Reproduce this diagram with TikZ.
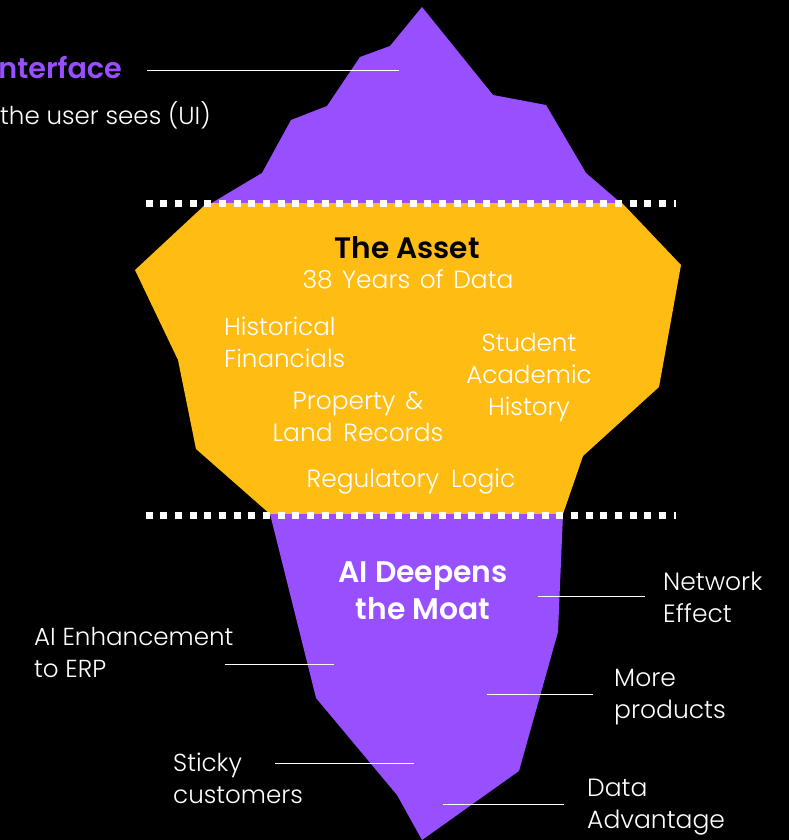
\documentclass[tikz,border=0pt]{standalone}
\usepackage{fontspec}
\setmainfont{Poppins}
\newfontfamily\lightfont{Poppins Light}
\newfontfamily\boldfont{Poppins SemiBold}
\definecolor{bergpurple}{HTML}{9850FF}
\definecolor{assetgold}{HTML}{FFBC13}
\newcommand\widegap[1]{\ \hspace{#1pt}}
\tikzset{
  x=1pt,y=-1pt,
  berg/.style={fill=bergpurple,draw=none},
  asset/.style={fill=assetgold,draw=none},
  waterline/.style={draw=white,line width=7pt,dash pattern=on 7.2pt off 7.47pt},
  leader/.style={draw=white,line width=0.9pt},
  label/.style={font=\lightfont\fontsize{24.6}{32}\selectfont,text=white,align=left,anchor=west,inner sep=0pt},
  labelb/.style={label,font=\lightfont\fontsize{25}{32}\selectfont},
  labelc/.style={label,align=center,anchor=center},
  labelw/.style={labelc,font=\lightfont\fontsize{24.9}{32}\selectfont},
  headdark/.style={font=\boldfont\fontsize{29.6}{32}\selectfont,text=black,anchor=center,inner sep=0pt},
  headwhite/.style={font=\boldfont\fontsize{29.8}{37}\selectfont,text=white,align=center,anchor=center,inner sep=0pt},
  headpurple/.style={font=\boldfont\fontsize{28.6}{32}\selectfont,text=bergpurple,anchor=east,inner sep=0pt},
}
\begin{document}
\begin{tikzpicture}
\useasboundingbox[fill=black] (0,0) rectangle (789,840);
% tip of the iceberg
\path[berg] (210,204) -- (262,173) -- (291,120) -- (327,106) -- (360,57) -- (390,46) -- (422,7) -- (493,95) -- (546,105) -- (586,173) -- (622,204) -- cycle;
% asset
\path[asset] (207,203) -- (135,270) -- (178,360) -- (196,449) -- (270,514) -- (563,514) -- (583,456) -- (659,387) -- (681,265) -- (622,203) -- cycle;
% lower iceberg
\path[berg] (270,514) -- (316,698) -- (397,795) -- (422,840) -- (519,771) -- (558,632) -- (563,514) -- cycle;
% waterlines
\coordinate (w1a) at (145.5,203.5); \coordinate (w1b) at (676,203.5);
\coordinate (w2a) at (145.5,515.5); \coordinate (w2b) at (676,515.5);
\draw[waterline] (w1a) -- (w1b);
\draw[waterline] (w2a) -- (w2b);
% text
\node[headpurple] (iface) at (122,67) {nterface};
\node[label] (ui) at (0,115) {the user sees (UI)};
\node[headdark] (assethead) at (407,247.5) {The Asset};
\node[labelw] (years) at (408,279) {38\widegap{2.7}Years\widegap{2.7}of\widegap{2.7}Data};
\node[label] (hist) at (224,342) {Historical\\Financials};
\node[labelc] (student) at (529,378) {Student\\Academic\\History};
\node[labelw] (property) at (358,417) {Property\widegap{3}\&\\Land\widegap{4}Records};
\node[labelw] (reg) at (411,481) {Regulatory\widegap{5}Logic};
\node[headwhite] (moat) at (423,591) {AI Deepens\\the Moat};
\node[labelb] (net) at (663,597) {Network\\Effect};
\node[labelb] (more) at (614,697) {More\\products};
\node[labelb] (data) at (587,807.5) {Data\\Advantage};
\node[label] (erp) at (34,652) {AI Enhancement\\to ERP};
\node[label] (sticky) at (173,778) {Sticky\\customers};
% leaders
\coordinate (l0a) at (147,70); \coordinate (l0b) at (399,70);
\coordinate (l1a) at (645,596); \coordinate (l1b) at (538,596);
\coordinate (l2a) at (593,694); \coordinate (l2b) at (487,694);
\coordinate (l3a) at (564,804); \coordinate (l3b) at (443,804);
\coordinate (l4a) at (225,664); \coordinate (l4b) at (334,664);
\coordinate (l5a) at (275,763); \coordinate (l5b) at (414,763);
\draw[leader] (l0a) -- (l0b);
\draw[leader] (l1a) -- (l1b);
\draw[leader] (l2a) -- (l2b);
\draw[leader] (l3a) -- (l3b);
\draw[leader] (l4a) -- (l4b);
\draw[leader] (l5a) -- (l5b);
\end{tikzpicture}
\end{document}
